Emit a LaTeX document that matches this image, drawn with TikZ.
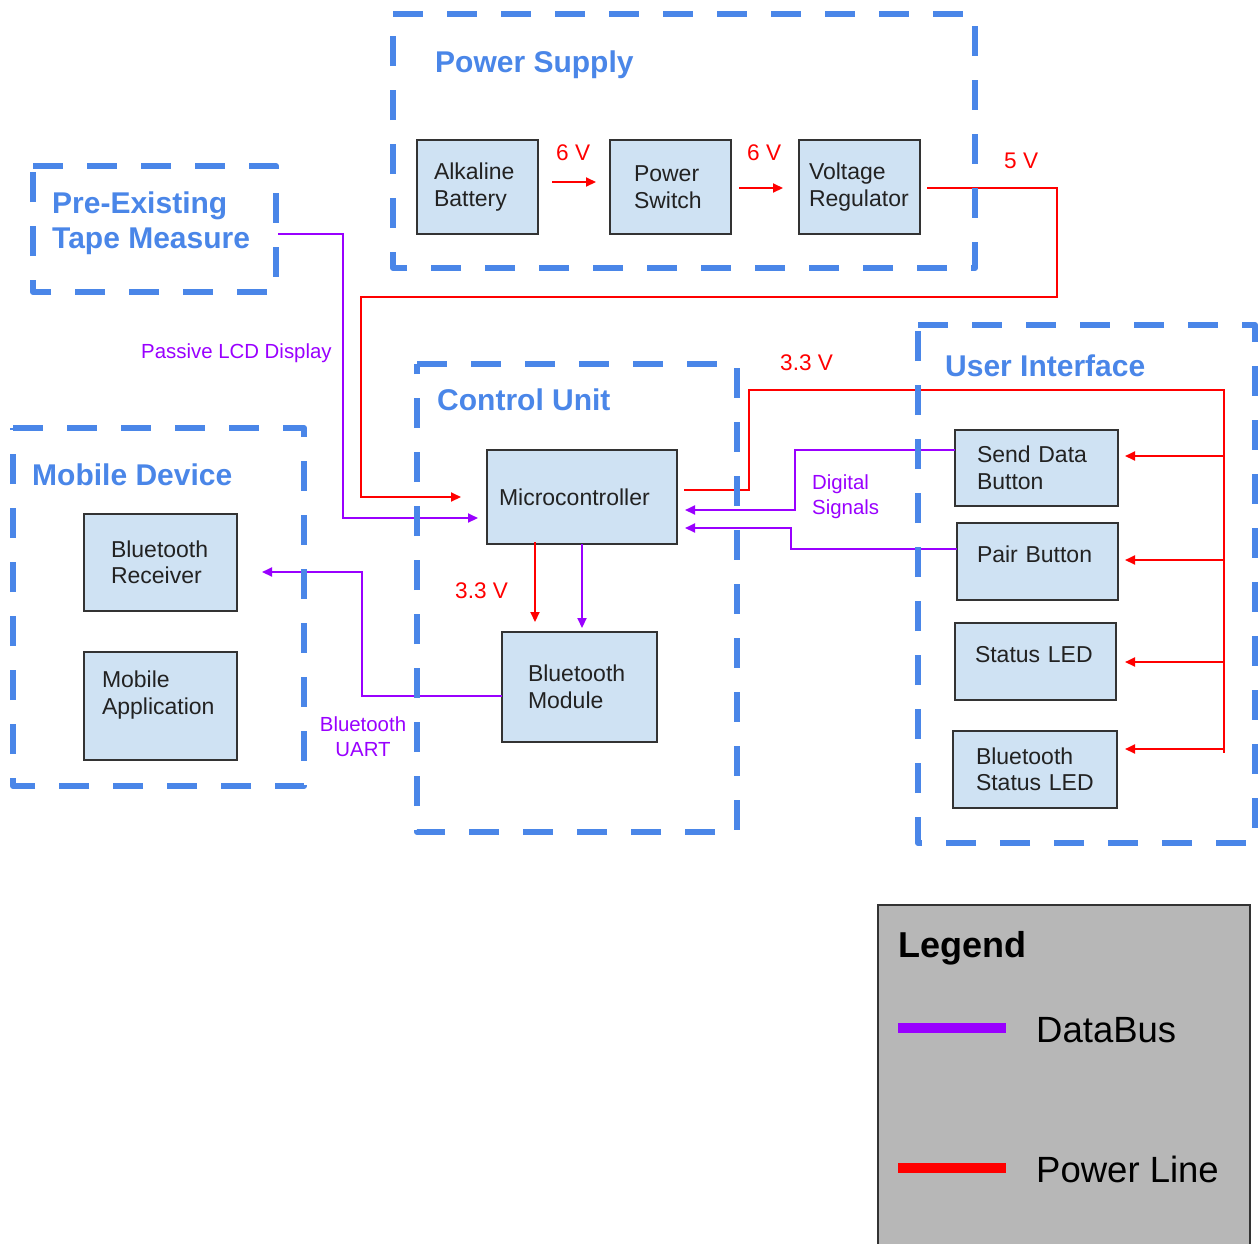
\documentclass[tikz,border=0pt]{standalone}
\usepackage{fontspec}
\setmainfont{Liberation Sans}
\usetikzlibrary{arrows.meta,calc}
\definecolor{grpblue}{HTML}{4A86E8}
\definecolor{boxfill}{HTML}{CFE2F3}
\definecolor{boxline}{HTML}{333333}
\definecolor{pwred}{HTML}{FF0000}
\definecolor{dbpurple}{HTML}{9900FF}
\definecolor{leggray}{HTML}{B7B7B7}
\definecolor{txtdark}{HTML}{222222}
\newcommand\mydepth[1]{\rule[-#1pt]{0pt}{#1pt}}
\begin{document}
\begin{tikzpicture}[x=1pt,y=-1pt,
  grp/.style={draw=grpblue,line width=6pt,dash pattern=on 30pt off 24pt,line join=round},
  grparea/.style={draw=none,inner sep=0pt,outer sep=0pt},
  grptitle/.style={text=grpblue,font=\fontsize{30}{35}\selectfont\bfseries,anchor=base west,inner sep=0pt},
  box/.style n args={4}{draw=boxline,fill=boxfill,line width=2pt,align=left,text=txtdark,
    font=\fontsize{23}{26.5}\selectfont,inner ysep=0pt,outer sep=0pt,
    minimum width=#1pt,minimum height=#2pt,inner xsep=#3pt,text width=#4pt},
  pw/.style={draw=pwred,line width=2pt},
  db/.style={draw=dbpurple,line width=2pt},
  tip/.style={-{Triangle[length=10pt,width=9pt]}},
  pwlabel/.style={text=pwred,font=\fontsize{22.6}{26}\selectfont,anchor=base west,inner sep=0pt},
  dblabel/.style={text=dbpurple,font=\fontsize{20.4}{25}\selectfont,inner sep=0pt},
  legtext/.style={text=black,font=\fontsize{36.5}{40}\selectfont,anchor=base west,inner sep=0pt},
]
\useasboundingbox (0,0) rectangle (1260,1243);

% group areas
\node[grparea,minimum width=582pt,minimum height=254pt] (ps) at (684,141) {};
\node[grparea,minimum width=243pt,minimum height=126pt] (tape) at (154.5,229) {};
\node[grparea,minimum width=291pt,minimum height=358pt] (mob) at (158.5,607) {};
\node[grparea,minimum width=320pt,minimum height=468pt] (cu) at (577,598) {};
\node[grparea,minimum width=337pt,minimum height=518pt] (ui) at (1086.5,584) {};

% boxes
\node[box={121}{94}{17}{87}] (bat) at (477.5,187) {Alkaline\\Battery};
\node[box={121}{94}{24}{73}] (sw) at (670.5,187) {Power\\Switch};
\node[box={121}{94}{10}{101}] (reg) at (859.5,187) {Voltage\\Regulator};
\node[box={190}{94}{12}{166}] (mcu) at (582,497) {Microcontroller};
\node[box={155}{110}{26}{103}] (btm) at (579.5,687) {Bluetooth\\Module};
\node[box={153}{97}{27}{99}] (btr) at (160.5,562.5) {Bluetooth\\Receiver};
\node[box={153}{108}{18}{117}] (app) at (160.5,706) {Mobile\\Application\mydepth{27}};
\node[box={163}{76}{22}{119}] (sd) at (1036.5,468) {Send Data\\Button};
\node[box={161}{77}{20}{121}] (pb) at (1037.5,561.5) {Pair Button\mydepth{14.5}};
\node[box={161}{77}{20}{121}] (led) at (1035.5,661.5) {Status LED\mydepth{13.5}};
\node[box={164}{77}{23}{118}] (bled) at (1035,769.5) {Bluetooth\\Status LED};

% power lines
\draw[pw,tip] ($(bat.east)+(14,-5)$) -- ($(sw.west)+(-14,-5)$);
\draw[pw,tip] ($(sw.east)+(8,1)$) -- ($(reg.west)+(-16,1)$);
\draw[pw,tip] ($(reg.east)+(7,1)$) -- (1057,188) -- (1057,297) -- (361,297) -- (361,497) -- ($(mcu.west)+(-26,0)$);
\coordinate (bus) at (1224,390);
\draw[pw] ($(mcu.east)+(7,-7)$) -- (749,490) -- (749,390) -- (bus) -- (1224,753);
\coordinate (sdin) at ($(sd.east)+(7,-12)$);
\coordinate (pbin) at ($(pb.east)+(7,-1.5)$);
\coordinate (ledin) at ($(led.east)+(9,0.5)$);
\coordinate (bledin) at ($(bled.east)+(8,-20.5)$);
\draw[pw,tip] (bus |- sdin) -- (sdin);
\draw[pw,tip] (bus |- pbin) -- (pbin);
\draw[pw,tip] (bus |- ledin) -- (ledin);
\draw[pw,tip] (bus |- bledin) -- (bledin);
\draw[pw,tip] ($(mcu.south)+(-47,-2)$) -- ($(btm.north)+(-44.5,-10)$);

% data lines
\draw[db,tip] (mcu.south) -- ($(btm.north)+(2.5,-4)$);
\draw[db,tip] ($(tape.east)+(2,5)$) -- (343,234) -- (343,518) -- ($(mcu.west)+(-9,21)$);
\draw[db,tip] ($(sd.west)+(0,-18)$) -- (795,450) -- (795,510) -- ($(mcu.east)+(8,13)$);
\draw[db,tip] ($(pb.west)+(0,-12.5)$) -- (791,549) -- (791,528) -- ($(mcu.east)+(8,31)$);
\draw[db,tip] ($(btm.west)+(0,9)$) -- (362,696) -- (362,572) -- ($(btr.east)+(25,9.5)$);

% group outlines
\foreach \g in {ps,tape,mob,cu,ui}{
  \draw[grp] (\g.north west) -- (\g.north east) -- (\g.south east) -- (\g.south west) -- cycle;
}

% group titles
\node[grptitle] (psT) at (435,72) {Power Supply};
\node[grptitle,anchor=west,align=left] (tapeT) at (52,223) {Pre-Existing\\Tape Measure};
\node[grptitle] (cuT) at (437,410) {Control Unit};
\node[grptitle] (uiT) at (945,376) {User Interface};
\node[grptitle] (mobT) at (32,485) {Mobile Device};

% labels
\node[pwlabel] (v1) at (556,160) {6 V};
\node[pwlabel] (v2) at (747,160) {6 V};
\node[pwlabel] (v3) at (1004,168) {5 V};
\node[pwlabel] (v4) at (780,370) {3.3 V};
\node[pwlabel] (v5) at (455,598) {3.3 V};
\node[dblabel,anchor=base west] (lcd) at (141,358) {Passive LCD Display};
\node[dblabel,anchor=west,align=left] (dig) at (812,497) {Digital\\Signals};
\node[dblabel,align=center] (uart) at (363,737) {Bluetooth\\UART};

% legend
\node[draw=boxline,fill=leggray,line width=2pt,minimum width=372pt,minimum height=345pt,inner sep=0pt] (leg) at (1064,1077.5) {};
\node[text=black,font=\fontsize{36}{40}\selectfont\bfseries,anchor=base west,inner sep=0pt] (legT) at (898,957) {Legend};
\draw[draw=dbpurple,line width=10pt] (898,1028) -- (1006,1028);
\node[legtext] (legDB) at (1036,1042) {DataBus};
\draw[draw=pwred,line width=10pt] (898,1168) -- (1006,1168);
\node[legtext] (legPL) at (1036,1182) {Power Line};
\end{tikzpicture}
\end{document}
